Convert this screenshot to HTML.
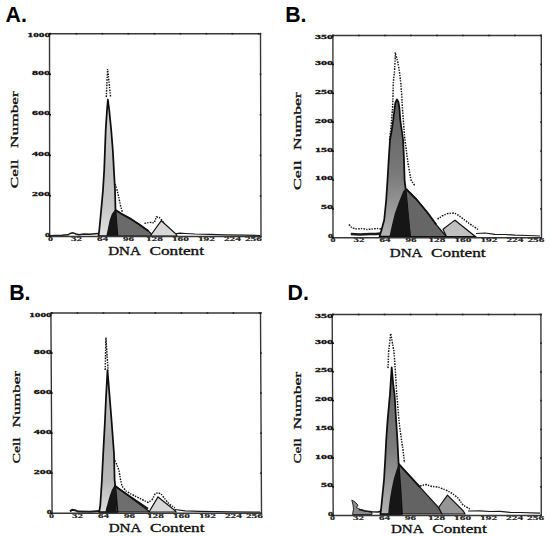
<!DOCTYPE html>
<html><head><meta charset="utf-8"><style>
html,body{margin:0;padding:0;background:#fff;overflow:hidden;width:550px;height:536px;}
svg{display:block;}
.tl{font-family:"Liberation Serif",serif;font-weight:bold;font-size:7.1px;fill:#111;stroke:#111;stroke-width:0.3px;}
.xl{font-family:"Liberation Serif",serif;font-weight:bold;font-size:6.4px;fill:#222;stroke:#222;stroke-width:0.15px;}
.cn{font-family:"Liberation Serif",serif;font-weight:normal;font-size:10.6px;fill:#111;stroke:#111;stroke-width:0.3px;}
.pl{font-family:"Liberation Sans",sans-serif;font-weight:bold;font-size:21.3px;fill:#000;}
.ax{font-family:"Liberation Serif",serif;font-weight:normal;font-size:12px;fill:#111;stroke:#111;stroke-width:0.32px;}
</style></head><body>
<svg width="550" height="536" viewBox="0 0 550 536">
<defs>
<linearGradient id="gB" gradientUnits="userSpaceOnUse" x1="0" y1="100" x2="0" y2="236"><stop offset="0" stop-color="#5e5e5e"/><stop offset="0.55" stop-color="#7a7a7a"/><stop offset="1" stop-color="#b4b4b4"/></linearGradient>
<linearGradient id="gD" gradientUnits="userSpaceOnUse" x1="0" y1="368" x2="0" y2="514"><stop offset="0" stop-color="#5e5e5e"/><stop offset="0.55" stop-color="#7c7c7c"/><stop offset="1" stop-color="#b4b4b4"/></linearGradient>
<linearGradient id="gA" gradientUnits="userSpaceOnUse" x1="0" y1="100" x2="0" y2="236"><stop offset="0" stop-color="#d6d6d6"/><stop offset="0.5" stop-color="#bdbdbd"/><stop offset="0.78" stop-color="#c6c6c6"/><stop offset="1" stop-color="#e2e2e2"/></linearGradient>
<linearGradient id="gC" gradientUnits="userSpaceOnUse" x1="0" y1="370" x2="0" y2="512"><stop offset="0" stop-color="#d0d0d0"/><stop offset="0.5" stop-color="#acacac"/><stop offset="0.78" stop-color="#b8b8b8"/><stop offset="1" stop-color="#dedede"/></linearGradient>
</defs>
<rect width="550" height="536" fill="#fff"/>
<polyline points="106.3,97.0 107.6,69.0 110.6,97.0" fill="none" stroke="#151515" stroke-width="1.45" stroke-dasharray="1.7 1.1 1.3 1.3"/>
<polyline points="115.0,184.0 116.7,188.4 118.6,196.3 120.6,206.0 122.5,212.5" fill="none" stroke="#151515" stroke-width="1.45" stroke-dasharray="1.7 1.1 1.3 1.3"/>
<polyline points="144.4,223.4 149.8,222.4 154.2,222.9 156.4,216.9 159.1,217.4 163.4,221.8" fill="none" stroke="#151515" stroke-width="1.45" stroke-dasharray="1.7 1.1 1.3 1.3"/>
<polyline points="50.0,235.6 62.0,235.3 68.0,234.8 70.0,233.5 73.0,232.8 76.0,234.0 79.0,234.8 84.0,234.0 90.0,234.3 95.0,233.8 98.8,233.5" fill="none" stroke="#1a1a1a" stroke-width="1.4" stroke-linejoin="round"/>
<polyline points="175.0,233.8 180.0,233.2 185.0,233.5 195.0,234.0 210.0,234.3 225.0,234.8 245.0,235.2 260.0,235.5" fill="none" stroke="#1a1a1a" stroke-width="1.2" stroke-linejoin="round"/>
<polygon points="106.0,236.0 115.5,210.0 121.0,213.6 130.2,218.6 139.3,224.5 148.4,231.0 153.5,236.0" fill="#6a6a6a" stroke="#111" stroke-width="1.2"/>
<polygon points="150.5,236.0 152.0,233.5 161.3,220.7 176.0,234.0 177.0,236.0" fill="#d8d8d8" stroke="#111" stroke-width="1.2"/>
<polygon points="98.5,236.0 99.3,230.0 101.0,212.0 103.0,190.0 104.2,170.0 105.7,130.0 107.0,110.0 107.9,99.5 109.2,110.0 111.2,130.0 112.8,150.0 113.9,170.0 115.0,190.0 115.5,210.0 116.5,225.0 117.5,236.0" fill="url(#gA)" stroke="#0e0e0e" stroke-width="1.75" stroke-linejoin="round"/>
<polygon points="106.3,236.0 107.2,232.0 108.2,227.0 109.7,220.0 111.8,214.0 114.7,209.9 116.0,212.0 117.1,225.0 117.5,236.0" fill="#161616" stroke="none"/>
<polyline points="115.5,210.0 121.0,213.6 130.2,218.6 139.3,224.5 148.4,231.0" fill="none" stroke="#111" stroke-width="1.8"/>
<polyline points="49.5,33.7 260.5,33.7 261,236.5 49.7,236.5 49.5,33.7" fill="none" stroke="#383838" stroke-width="1.4"/>
<text class="tl" x="45.0" y="236.9" textLength="5.0" lengthAdjust="spacingAndGlyphs">0</text>
<rect x="259.7" y="235.7" width="1.6" height="1.6" fill="#222"/>
<rect x="49.0" y="235.7" width="2" height="1.6" fill="#111"/>
<text class="tl" x="32.0" y="196.3" textLength="18.0" lengthAdjust="spacingAndGlyphs">200</text>
<rect x="259.7" y="195.1" width="1.6" height="1.6" fill="#222"/>
<rect x="49.0" y="195.1" width="2" height="1.6" fill="#111"/>
<text class="tl" x="32.0" y="155.8" textLength="18.0" lengthAdjust="spacingAndGlyphs">400</text>
<rect x="259.7" y="154.6" width="1.6" height="1.6" fill="#222"/>
<rect x="49.0" y="154.6" width="2" height="1.6" fill="#111"/>
<text class="tl" x="32.0" y="115.2" textLength="18.0" lengthAdjust="spacingAndGlyphs">600</text>
<rect x="259.7" y="114.0" width="1.6" height="1.6" fill="#222"/>
<rect x="49.0" y="114.0" width="2" height="1.6" fill="#111"/>
<text class="tl" x="32.0" y="74.7" textLength="18.0" lengthAdjust="spacingAndGlyphs">800</text>
<rect x="259.7" y="73.5" width="1.6" height="1.6" fill="#222"/>
<rect x="49.0" y="73.5" width="2" height="1.6" fill="#111"/>
<text class="tl" x="27.5" y="37.2" textLength="22.5" lengthAdjust="spacingAndGlyphs">1000</text>
<rect x="259.7" y="32.9" width="1.6" height="1.6" fill="#222"/>
<rect x="49.0" y="32.9" width="2" height="1.6" fill="#111"/>
<text class="xl" x="47.9" y="241.1" textLength="5.0" lengthAdjust="spacingAndGlyphs">0</text>
<rect x="49.6" y="32.9" width="1.6" height="1.6" fill="#222"/>
<text class="xl" x="70.9" y="241.1" textLength="11.0" lengthAdjust="spacingAndGlyphs">32</text>
<rect x="75.6" y="32.9" width="1.6" height="1.6" fill="#222"/>
<text class="xl" x="96.9" y="241.1" textLength="11.0" lengthAdjust="spacingAndGlyphs">64</text>
<rect x="101.6" y="32.9" width="1.6" height="1.6" fill="#222"/>
<text class="xl" x="122.9" y="241.1" textLength="11.0" lengthAdjust="spacingAndGlyphs">96</text>
<rect x="127.6" y="32.9" width="1.6" height="1.6" fill="#222"/>
<text class="xl" x="145.9" y="241.1" textLength="17.0" lengthAdjust="spacingAndGlyphs">128</text>
<rect x="153.6" y="32.9" width="1.6" height="1.6" fill="#222"/>
<text class="xl" x="171.9" y="241.1" textLength="17.0" lengthAdjust="spacingAndGlyphs">160</text>
<rect x="179.6" y="32.9" width="1.6" height="1.6" fill="#222"/>
<text class="xl" x="197.9" y="241.1" textLength="17.0" lengthAdjust="spacingAndGlyphs">192</text>
<rect x="205.6" y="32.9" width="1.6" height="1.6" fill="#222"/>
<text class="xl" x="223.9" y="241.1" textLength="17.0" lengthAdjust="spacingAndGlyphs">224</text>
<rect x="231.6" y="32.9" width="1.6" height="1.6" fill="#222"/>
<text class="xl" x="244.9" y="241.1" textLength="17.0" lengthAdjust="spacingAndGlyphs">256</text>
<rect x="257.6" y="32.9" width="1.6" height="1.6" fill="#222"/>
<text class="pl" x="5.5" y="21.6">A.</text>
<text class="cn" x="0" y="0" transform="translate(17.6 188.2) rotate(-90)" textLength="28.7" lengthAdjust="spacingAndGlyphs">Cell</text>
<text class="cn" x="0" y="0" transform="translate(17.6 147.9) rotate(-90)" textLength="56.7" lengthAdjust="spacingAndGlyphs">Number</text>
<text class="ax" x="108.2" y="255.0" textLength="32.7" lengthAdjust="spacingAndGlyphs">DNA</text>
<text class="ax" x="149.5" y="255.0" textLength="54.5" lengthAdjust="spacingAndGlyphs">Content</text>
<polyline points="349.0,224.5 352.0,228.0 357.0,229.0 362.0,228.5 367.0,229.5 372.0,229.0 377.0,228.5 381.0,229.0" fill="none" stroke="#151515" stroke-width="1.45" stroke-dasharray="1.7 1.1 1.3 1.3"/>
<polyline points="389.6,140.0 391.2,125.0 392.6,107.9 393.0,96.1 393.3,83.0 394.6,70.0 395.2,58.3 395.2,52.4 397.8,62.2 399.2,70.0 400.8,83.0 401.8,96.1 402.4,107.9 404.6,137.3 408.3,165.3 411.1,180.2 414.9,185.8" fill="none" stroke="#151515" stroke-width="1.45" stroke-dasharray="1.7 1.1 1.3 1.3"/>
<polyline points="437.5,219.2 442.0,216.0 447.6,213.6 454.3,213.0 458.0,215.0 462.0,218.0 470.0,224.0 478.0,229.5" fill="none" stroke="#151515" stroke-width="1.45" stroke-dasharray="1.7 1.1 1.3 1.3"/>
<polyline points="350.8,234.0 360.0,234.5 370.0,234.0 376.0,234.0 380.0,233.5" fill="none" stroke="#1a1a1a" stroke-width="2.6" stroke-linejoin="round"/>
<polyline points="476.0,233.5 485.0,233.0 495.0,234.3 505.0,234.5 515.0,235.2 528.0,235.5 540.0,236.0" fill="none" stroke="#1a1a1a" stroke-width="1.2" stroke-linejoin="round"/>
<polygon points="390.0,236.5 406.1,189.0 416.2,199.0 427.4,212.5 436.4,224.8 442.0,231.5 446.4,236.5" fill="#666666" stroke="#111" stroke-width="1.2"/>
<polygon points="443.0,229.3 453.2,221.4 455.0,220.2 475.3,236.5 446.4,236.5" fill="#c0c0c0" stroke="#111" stroke-width="1.2"/>
<polygon points="379.5,236.5 381.2,231.0 384.2,220.0 386.2,200.0 387.5,180.0 388.7,160.0 390.0,140.0 391.8,130.0 393.2,120.0 394.4,110.0 395.4,102.5 396.9,99.3 398.4,102.0 399.4,108.0 400.3,120.0 401.7,130.0 403.1,140.0 404.0,160.0 404.6,180.0 405.5,188.2 407.5,210.0 410.0,236.5" fill="url(#gB)" stroke="#0e0e0e" stroke-width="1.75" stroke-linejoin="round"/>
<polygon points="389.5,236.5 390.3,232.6 392.0,224.7 394.8,213.6 398.7,202.4 403.2,191.2 405.8,188.5 408.2,213.6 410.4,232.6 411.0,236.5" fill="#161616" stroke="none"/>
<polyline points="406.1,189.0 416.2,199.0 427.4,212.5 436.4,224.8" fill="none" stroke="#111" stroke-width="1.8"/>
<polyline points="332.9,35.5 541.3,35.5 541.5,237.8 333,237.8 332.9,35.5" fill="none" stroke="#383838" stroke-width="1.4"/>
<text class="tl" x="328.0" y="238.2" textLength="5.0" lengthAdjust="spacingAndGlyphs">0</text>
<rect x="540.2" y="237.0" width="1.6" height="1.6" fill="#222"/>
<rect x="332.0" y="237.0" width="2" height="1.6" fill="#111"/>
<text class="tl" x="321.0" y="209.3" textLength="12.0" lengthAdjust="spacingAndGlyphs">50</text>
<rect x="540.2" y="208.1" width="1.6" height="1.6" fill="#222"/>
<rect x="332.0" y="208.1" width="2" height="1.6" fill="#111"/>
<text class="tl" x="315.0" y="180.4" textLength="18.0" lengthAdjust="spacingAndGlyphs">100</text>
<rect x="540.2" y="179.2" width="1.6" height="1.6" fill="#222"/>
<rect x="332.0" y="179.2" width="2" height="1.6" fill="#111"/>
<text class="tl" x="315.0" y="151.5" textLength="18.0" lengthAdjust="spacingAndGlyphs">150</text>
<rect x="540.2" y="150.3" width="1.6" height="1.6" fill="#222"/>
<rect x="332.0" y="150.3" width="2" height="1.6" fill="#111"/>
<text class="tl" x="315.0" y="122.6" textLength="18.0" lengthAdjust="spacingAndGlyphs">200</text>
<rect x="540.2" y="121.4" width="1.6" height="1.6" fill="#222"/>
<rect x="332.0" y="121.4" width="2" height="1.6" fill="#111"/>
<text class="tl" x="315.0" y="93.7" textLength="18.0" lengthAdjust="spacingAndGlyphs">250</text>
<rect x="540.2" y="92.5" width="1.6" height="1.6" fill="#222"/>
<rect x="332.0" y="92.5" width="2" height="1.6" fill="#111"/>
<text class="tl" x="315.0" y="64.8" textLength="18.0" lengthAdjust="spacingAndGlyphs">300</text>
<rect x="540.2" y="63.6" width="1.6" height="1.6" fill="#222"/>
<rect x="332.0" y="63.6" width="2" height="1.6" fill="#111"/>
<text class="tl" x="315.0" y="39.0" textLength="18.0" lengthAdjust="spacingAndGlyphs">350</text>
<rect x="540.2" y="34.7" width="1.6" height="1.6" fill="#222"/>
<rect x="332.0" y="34.7" width="2" height="1.6" fill="#111"/>
<text class="xl" x="330.4" y="242.4" textLength="5.0" lengthAdjust="spacingAndGlyphs">0</text>
<rect x="332.1" y="34.7" width="1.6" height="1.6" fill="#222"/>
<text class="xl" x="353.4" y="242.4" textLength="11.0" lengthAdjust="spacingAndGlyphs">32</text>
<rect x="358.1" y="34.7" width="1.6" height="1.6" fill="#222"/>
<text class="xl" x="379.4" y="242.4" textLength="11.0" lengthAdjust="spacingAndGlyphs">64</text>
<rect x="384.1" y="34.7" width="1.6" height="1.6" fill="#222"/>
<text class="xl" x="405.4" y="242.4" textLength="11.0" lengthAdjust="spacingAndGlyphs">96</text>
<rect x="410.1" y="34.7" width="1.6" height="1.6" fill="#222"/>
<text class="xl" x="428.4" y="242.4" textLength="17.0" lengthAdjust="spacingAndGlyphs">128</text>
<rect x="436.1" y="34.7" width="1.6" height="1.6" fill="#222"/>
<text class="xl" x="454.4" y="242.4" textLength="17.0" lengthAdjust="spacingAndGlyphs">160</text>
<rect x="462.1" y="34.7" width="1.6" height="1.6" fill="#222"/>
<text class="xl" x="480.4" y="242.4" textLength="17.0" lengthAdjust="spacingAndGlyphs">192</text>
<rect x="488.1" y="34.7" width="1.6" height="1.6" fill="#222"/>
<text class="xl" x="506.4" y="242.4" textLength="17.0" lengthAdjust="spacingAndGlyphs">224</text>
<rect x="514.1" y="34.7" width="1.6" height="1.6" fill="#222"/>
<text class="xl" x="527.4" y="242.4" textLength="17.0" lengthAdjust="spacingAndGlyphs">256</text>
<rect x="540.1" y="34.7" width="1.6" height="1.6" fill="#222"/>
<text class="pl" x="285.2" y="22.4">B.</text>
<text class="cn" x="0" y="0" transform="translate(300.6 190.1) rotate(-90)" textLength="29.7" lengthAdjust="spacingAndGlyphs">Cell</text>
<text class="cn" x="0" y="0" transform="translate(300.6 150) rotate(-90)" textLength="57.7" lengthAdjust="spacingAndGlyphs">Number</text>
<text class="ax" x="389.8" y="256.5" textLength="32.7" lengthAdjust="spacingAndGlyphs">DNA</text>
<text class="ax" x="431.1" y="256.5" textLength="54.5" lengthAdjust="spacingAndGlyphs">Content</text>
<polyline points="105.2,370.0 105.9,337.6 108.1,370.3" fill="none" stroke="#151515" stroke-width="1.45" stroke-dasharray="1.7 1.1 1.3 1.3"/>
<polyline points="114.0,458.0 116.8,464.8 119.0,470.4 120.2,478.2 122.0,486.0 126.0,491.0 131.0,494.0 137.0,497.0 143.0,500.0 148.0,502.5 152.0,500.0" fill="none" stroke="#151515" stroke-width="1.45" stroke-dasharray="1.7 1.1 1.3 1.3"/>
<polyline points="152.0,500.0 155.0,494.0 158.0,492.5 161.0,494.0 165.0,499.0 169.0,504.0 175.0,508.0" fill="none" stroke="#151515" stroke-width="1.45" stroke-dasharray="1.7 1.1 1.3 1.3"/>
<polyline points="70.0,511.5 72.0,509.8 75.0,510.2 78.0,511.6 90.0,511.8 99.5,511.0" fill="none" stroke="#1a1a1a" stroke-width="2.0" stroke-linejoin="round"/>
<polyline points="175.0,509.5 185.0,510.8 200.0,511.3 230.0,511.8 260.0,512.2" fill="none" stroke="#1a1a1a" stroke-width="1.2" stroke-linejoin="round"/>
<polygon points="106.0,512.0 114.8,485.4 149.3,511.5 150.0,512.0" fill="#6e6e6e" stroke="#111" stroke-width="1.2"/>
<polygon points="149.0,512.0 158.0,497.0 175.5,511.0 176.0,512.0" fill="#d8d8d8" stroke="#111" stroke-width="1.2"/>
<polygon points="99.2,512.0 100.3,505.0 101.9,480.0 103.2,453.6 105.0,420.0 105.9,400.0 107.5,370.1 111.5,420.0 114.0,453.6 114.6,480.0 115.2,485.4 116.5,500.0 117.5,512.0" fill="url(#gC)" stroke="#0e0e0e" stroke-width="1.75" stroke-linejoin="round"/>
<polygon points="105.5,512.0 106.2,508.0 107.2,505.0 108.5,500.0 110.0,495.0 112.0,489.5 114.7,485.2 116.1,490.0 116.6,512.0" fill="#161616" stroke="none"/>
<polyline points="114.2,485.4 130.0,496.5 148.0,508.8" fill="none" stroke="#111" stroke-width="1.8"/>
<polyline points="50.9,313 260.5,313 261.5,513.3 52.1,513.3 50.9,313" fill="none" stroke="#383838" stroke-width="1.4"/>
<text class="tl" x="46.7" y="513.7" textLength="5.0" lengthAdjust="spacingAndGlyphs">0</text>
<rect x="260.2" y="512.5" width="1.6" height="1.6" fill="#222"/>
<rect x="50.7" y="512.5" width="2" height="1.6" fill="#111"/>
<text class="tl" x="33.7" y="473.6" textLength="18.0" lengthAdjust="spacingAndGlyphs">200</text>
<rect x="260.2" y="472.4" width="1.6" height="1.6" fill="#222"/>
<rect x="50.7" y="472.4" width="2" height="1.6" fill="#111"/>
<text class="tl" x="33.7" y="433.6" textLength="18.0" lengthAdjust="spacingAndGlyphs">400</text>
<rect x="260.2" y="432.4" width="1.6" height="1.6" fill="#222"/>
<rect x="50.7" y="432.4" width="2" height="1.6" fill="#111"/>
<text class="tl" x="33.7" y="393.5" textLength="18.0" lengthAdjust="spacingAndGlyphs">600</text>
<rect x="260.2" y="392.3" width="1.6" height="1.6" fill="#222"/>
<rect x="50.7" y="392.3" width="2" height="1.6" fill="#111"/>
<text class="tl" x="33.7" y="353.5" textLength="18.0" lengthAdjust="spacingAndGlyphs">800</text>
<rect x="260.2" y="352.3" width="1.6" height="1.6" fill="#222"/>
<rect x="50.7" y="352.3" width="2" height="1.6" fill="#111"/>
<text class="tl" x="29.2" y="316.5" textLength="22.5" lengthAdjust="spacingAndGlyphs">1000</text>
<rect x="260.2" y="312.2" width="1.6" height="1.6" fill="#222"/>
<rect x="50.7" y="312.2" width="2" height="1.6" fill="#111"/>
<text class="xl" x="48.9" y="517.9" textLength="5.0" lengthAdjust="spacingAndGlyphs">0</text>
<rect x="50.6" y="312.2" width="1.6" height="1.6" fill="#222"/>
<text class="xl" x="71.9" y="517.9" textLength="11.0" lengthAdjust="spacingAndGlyphs">32</text>
<rect x="76.6" y="312.2" width="1.6" height="1.6" fill="#222"/>
<text class="xl" x="97.9" y="517.9" textLength="11.0" lengthAdjust="spacingAndGlyphs">64</text>
<rect x="102.6" y="312.2" width="1.6" height="1.6" fill="#222"/>
<text class="xl" x="123.9" y="517.9" textLength="11.0" lengthAdjust="spacingAndGlyphs">96</text>
<rect x="128.6" y="312.2" width="1.6" height="1.6" fill="#222"/>
<text class="xl" x="146.9" y="517.9" textLength="17.0" lengthAdjust="spacingAndGlyphs">128</text>
<rect x="154.6" y="312.2" width="1.6" height="1.6" fill="#222"/>
<text class="xl" x="172.9" y="517.9" textLength="17.0" lengthAdjust="spacingAndGlyphs">160</text>
<rect x="180.6" y="312.2" width="1.6" height="1.6" fill="#222"/>
<text class="xl" x="198.9" y="517.9" textLength="17.0" lengthAdjust="spacingAndGlyphs">192</text>
<rect x="206.6" y="312.2" width="1.6" height="1.6" fill="#222"/>
<text class="xl" x="224.9" y="517.9" textLength="17.0" lengthAdjust="spacingAndGlyphs">224</text>
<rect x="232.6" y="312.2" width="1.6" height="1.6" fill="#222"/>
<text class="xl" x="245.9" y="517.9" textLength="17.0" lengthAdjust="spacingAndGlyphs">256</text>
<rect x="258.6" y="312.2" width="1.6" height="1.6" fill="#222"/>
<text class="pl" x="9.2" y="299.9">B.</text>
<text class="cn" x="0" y="0" transform="translate(20.0 463.6) rotate(-90)" textLength="26.3" lengthAdjust="spacingAndGlyphs">Cell</text>
<text class="cn" x="0" y="0" transform="translate(20.0 427.5) rotate(-90)" textLength="56.6" lengthAdjust="spacingAndGlyphs">Number</text>
<text class="ax" x="108.7" y="531.5" textLength="32.7" lengthAdjust="spacingAndGlyphs">DNA</text>
<text class="ax" x="150.0" y="531.5" textLength="54.5" lengthAdjust="spacingAndGlyphs">Content</text>
<polyline points="388.0,368.1 388.7,351.1 390.7,333.5 393.9,351.1 395.2,368.1 396.5,390.3 398.9,420.0 400.1,430.0 401.5,440.0 403.0,450.0 404.5,463.0" fill="none" stroke="#151515" stroke-width="1.45" stroke-dasharray="1.7 1.1 1.3 1.3"/>
<polyline points="420.0,486.0 426.0,484.5 432.0,486.5 438.0,487.0 443.0,489.0 448.0,491.0 453.0,494.0 458.0,498.0 463.0,505.0 470.0,509.0" fill="none" stroke="#151515" stroke-width="1.45" stroke-dasharray="1.7 1.1 1.3 1.3"/>
<polygon points="351.8,500.0 355.0,502.0 358.0,505.0 356.5,507.5 359.0,509.0 366.0,511.0 372.0,512.5 372.0,514.5 352.5,514.5 353.5,509.0 353.0,505.0" fill="#8a8a8a" stroke="#1a1a1a" stroke-width="0.9"/>
<polyline points="359.0,509.5 365.0,511.0 372.0,511.8 378.0,512.0 381.0,511.0" fill="none" stroke="#1a1a1a" stroke-width="1.5" stroke-linejoin="round"/>
<polyline points="468.0,511.0 480.0,510.8 490.0,511.5 500.0,511.3 510.0,512.3 520.0,512.5 540.0,513.2" fill="none" stroke="#1a1a1a" stroke-width="1.2" stroke-linejoin="round"/>
<polygon points="388.0,514.0 398.6,463.8 438.6,507.5 442.0,514.0" fill="#636363" stroke="#111" stroke-width="1.2"/>
<polygon points="438.6,507.5 447.4,495.1 463.4,511.0 465.0,514.0 442.0,514.0" fill="#959595" stroke="#111" stroke-width="1.2"/>
<polygon points="380.3,514.0 381.0,510.0 382.5,495.0 384.0,480.0 385.2,460.0 386.2,440.0 387.6,420.0 389.9,395.0 391.7,367.4 393.3,385.0 394.6,395.0 396.1,420.0 397.4,440.0 398.6,463.8 400.5,490.0 402.0,514.0" fill="url(#gD)" stroke="#0e0e0e" stroke-width="1.75" stroke-linejoin="round"/>
<polygon points="388.2,514.0 388.8,507.0 390.2,497.0 392.0,487.0 394.0,478.0 396.5,470.0 398.6,463.8 400.2,490.0 401.5,514.0" fill="#161616" stroke="none"/>
<polyline points="398.6,463.8 420.0,487.2" fill="none" stroke="#111" stroke-width="1.8"/>
<polyline points="332.2,314.5 540.9,314.5 541.3,515.5 333.2,515.5 332.2,314.5" fill="none" stroke="#383838" stroke-width="1.4"/>
<text class="tl" x="328.0" y="515.9" textLength="5.0" lengthAdjust="spacingAndGlyphs">0</text>
<rect x="540.2" y="514.7" width="1.6" height="1.6" fill="#222"/>
<rect x="332.0" y="514.7" width="2" height="1.6" fill="#111"/>
<text class="tl" x="321.0" y="487.2" textLength="12.0" lengthAdjust="spacingAndGlyphs">50</text>
<rect x="540.2" y="486.0" width="1.6" height="1.6" fill="#222"/>
<rect x="332.0" y="486.0" width="2" height="1.6" fill="#111"/>
<text class="tl" x="315.0" y="458.5" textLength="18.0" lengthAdjust="spacingAndGlyphs">100</text>
<rect x="540.2" y="457.3" width="1.6" height="1.6" fill="#222"/>
<rect x="332.0" y="457.3" width="2" height="1.6" fill="#111"/>
<text class="tl" x="315.0" y="429.8" textLength="18.0" lengthAdjust="spacingAndGlyphs">150</text>
<rect x="540.2" y="428.6" width="1.6" height="1.6" fill="#222"/>
<rect x="332.0" y="428.6" width="2" height="1.6" fill="#111"/>
<text class="tl" x="315.0" y="401.0" textLength="18.0" lengthAdjust="spacingAndGlyphs">200</text>
<rect x="540.2" y="399.8" width="1.6" height="1.6" fill="#222"/>
<rect x="332.0" y="399.8" width="2" height="1.6" fill="#111"/>
<text class="tl" x="315.0" y="372.3" textLength="18.0" lengthAdjust="spacingAndGlyphs">250</text>
<rect x="540.2" y="371.1" width="1.6" height="1.6" fill="#222"/>
<rect x="332.0" y="371.1" width="2" height="1.6" fill="#111"/>
<text class="tl" x="315.0" y="343.6" textLength="18.0" lengthAdjust="spacingAndGlyphs">300</text>
<rect x="540.2" y="342.4" width="1.6" height="1.6" fill="#222"/>
<rect x="332.0" y="342.4" width="2" height="1.6" fill="#111"/>
<text class="tl" x="315.0" y="318.0" textLength="18.0" lengthAdjust="spacingAndGlyphs">350</text>
<rect x="540.2" y="313.7" width="1.6" height="1.6" fill="#222"/>
<rect x="332.0" y="313.7" width="2" height="1.6" fill="#111"/>
<text class="xl" x="330.1" y="520.1" textLength="5.0" lengthAdjust="spacingAndGlyphs">0</text>
<rect x="331.8" y="313.7" width="1.6" height="1.6" fill="#222"/>
<text class="xl" x="353.1" y="520.1" textLength="11.0" lengthAdjust="spacingAndGlyphs">32</text>
<rect x="357.8" y="313.7" width="1.6" height="1.6" fill="#222"/>
<text class="xl" x="379.1" y="520.1" textLength="11.0" lengthAdjust="spacingAndGlyphs">64</text>
<rect x="383.8" y="313.7" width="1.6" height="1.6" fill="#222"/>
<text class="xl" x="405.1" y="520.1" textLength="11.0" lengthAdjust="spacingAndGlyphs">96</text>
<rect x="409.8" y="313.7" width="1.6" height="1.6" fill="#222"/>
<text class="xl" x="428.1" y="520.1" textLength="17.0" lengthAdjust="spacingAndGlyphs">128</text>
<rect x="435.8" y="313.7" width="1.6" height="1.6" fill="#222"/>
<text class="xl" x="454.1" y="520.1" textLength="17.0" lengthAdjust="spacingAndGlyphs">160</text>
<rect x="461.8" y="313.7" width="1.6" height="1.6" fill="#222"/>
<text class="xl" x="480.1" y="520.1" textLength="17.0" lengthAdjust="spacingAndGlyphs">192</text>
<rect x="487.8" y="313.7" width="1.6" height="1.6" fill="#222"/>
<text class="xl" x="506.1" y="520.1" textLength="17.0" lengthAdjust="spacingAndGlyphs">224</text>
<rect x="513.8" y="313.7" width="1.6" height="1.6" fill="#222"/>
<text class="xl" x="527.1" y="520.1" textLength="17.0" lengthAdjust="spacingAndGlyphs">256</text>
<rect x="539.8" y="313.7" width="1.6" height="1.6" fill="#222"/>
<text class="pl" x="287.6" y="300.2">D.</text>
<text class="cn" x="0" y="0" transform="translate(301.0 463.6) rotate(-90)" textLength="25.4" lengthAdjust="spacingAndGlyphs">Cell</text>
<text class="cn" x="0" y="0" transform="translate(301.0 429.5) rotate(-90)" textLength="57.7" lengthAdjust="spacingAndGlyphs">Number</text>
<text class="ax" x="390.9" y="532.6" textLength="32.7" lengthAdjust="spacingAndGlyphs">DNA</text>
<text class="ax" x="432.2" y="532.6" textLength="54.5" lengthAdjust="spacingAndGlyphs">Content</text>
</svg>
</body></html>
